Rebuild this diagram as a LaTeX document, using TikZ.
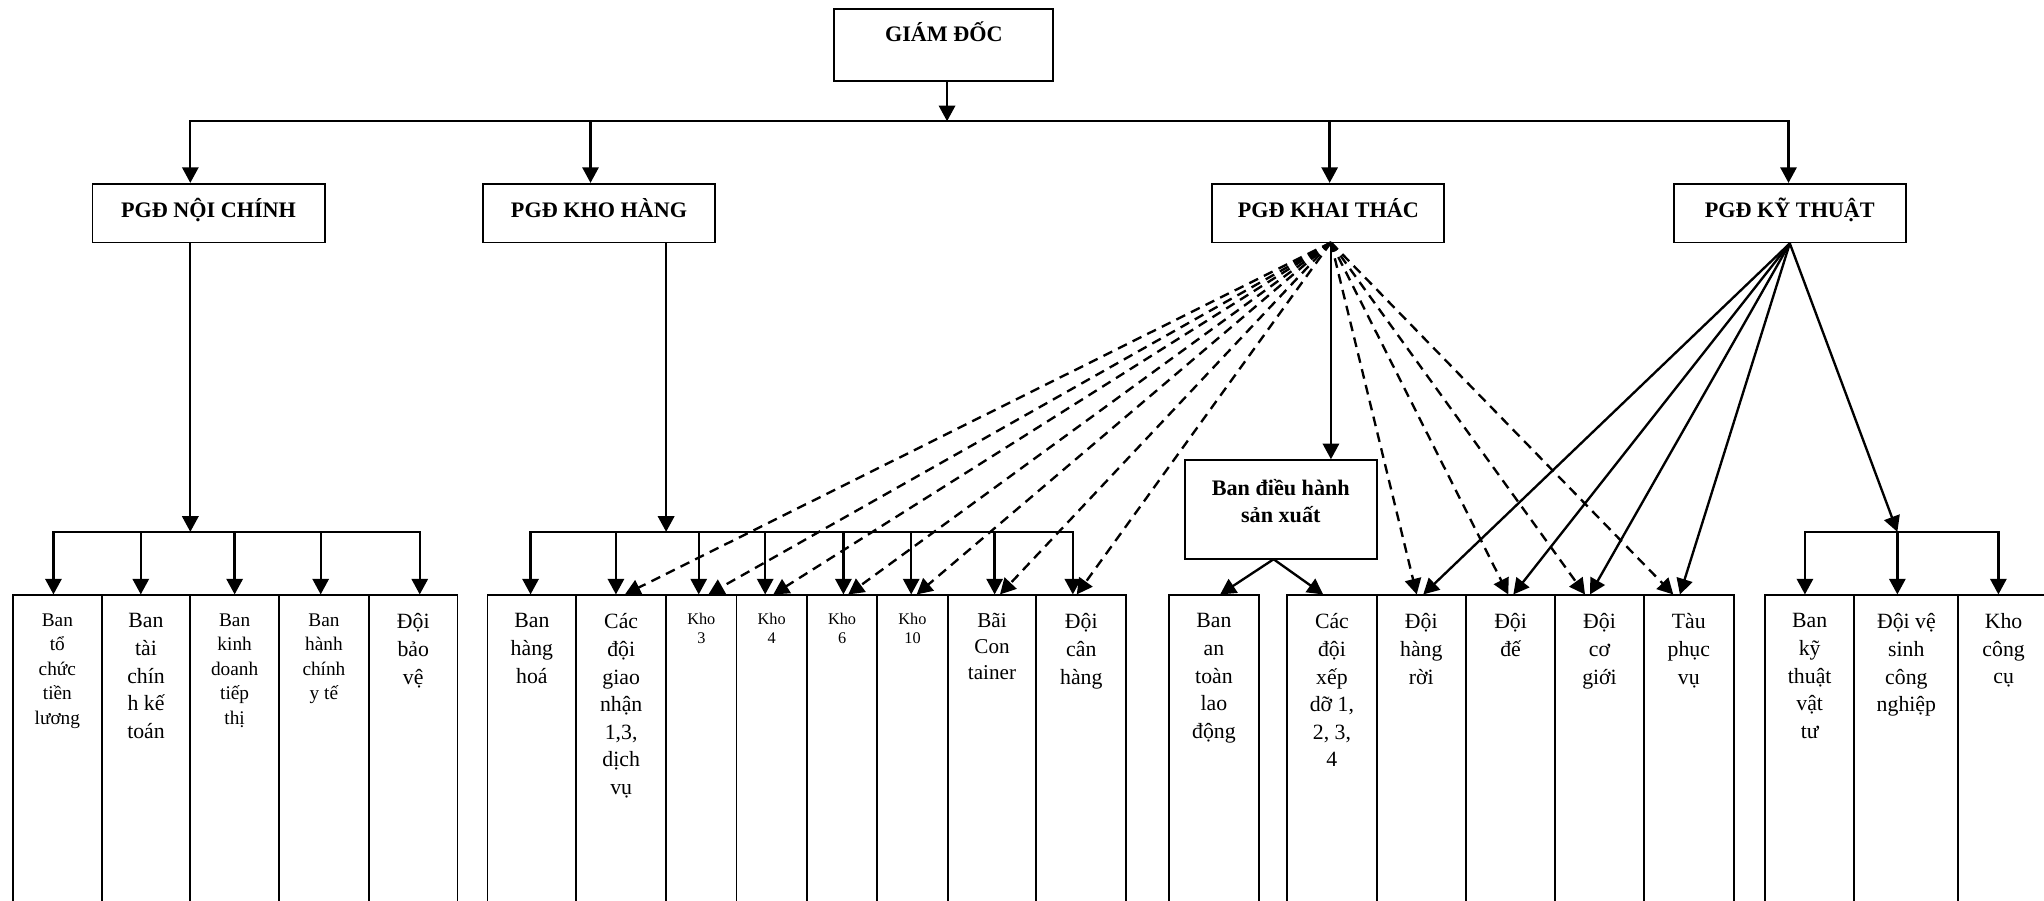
\documentclass[tikz,border=0pt]{standalone}
\usepackage{fontspec}
\setmainfont{Liberation Serif}
\usetikzlibrary{arrows.meta}
\begin{document}
\begin{tikzpicture}[x=1pt,y=-1pt,
  conn/.style={line width=1.8pt,-{Triangle[length=12pt,width=12.5pt]}},
  dconn/.style={conn,dash pattern=on 7.5pt off 5pt},
  busline/.style={line width=1.8pt,line cap=rect},
  hdr/.style={draw,line width=1.4pt,inner sep=0pt,font=\bfseries\fontsize{17}{21}\selectfont},
  pgd/.style={hdr,minimum width=178pt,minimum height=45pt,text height=11.3pt,text depth=5pt},
  col/.style={draw,line width=1.4pt,anchor=north,minimum height=260pt,inner sep=0pt},
  lbl/.style={anchor=north,align=center,inner sep=0pt,execute at begin node=\strut},
  big/.style={lbl,font=\fontsize{16.7}{21.2}\selectfont},
  sml/.style={lbl,font=\fontsize{14.8}{18.8}\selectfont},
  tny/.style={lbl,font=\fontsize{12.5}{14.5}\selectfont},
]
\useasboundingbox (0,0) rectangle (1568,691);
\clip (0,0) rectangle (1568,691);

% ---------- director and deputies ----------
\node[hdr,minimum width=168pt,minimum height=55pt,text height=12pt,text depth=17.8pt] (gd) at (724,34.5) {GIÁM ĐỐC};
\coordinate (top) at (726.5,93);
\draw[conn] (gd.south -| top) -- (top);

\coordinate (t1) at (146,93);
\coordinate (t2) at (453,93);
\coordinate (t3) at (1020,93);
\coordinate (t4) at (1372,93);
\draw[busline] (t1) -- (t4);

\node[pgd] (pn) at (160,163.5)   {PGĐ NỘI CHÍNH};
\node[pgd] (pk) at (459.5,163.5) {PGĐ KHO HÀNG};
\node[pgd] (pt) at (1019,163.5)  {PGĐ KHAI THÁC};
\node[pgd] (px) at (1373,163.5)  {PGĐ KỸ THUẬT};

\draw[conn] (t1) -- (t1 |- pn.north);
\draw[conn] (t2) -- (t2 |- pk.north);
\draw[conn] (t3) -- (t3 |- pt.north);
\draw[conn] (t4) -- (t4 |- px.north);

% ---------- group 1: PGĐ NỘI CHÍNH ----------
\node[col,minimum width=68pt] (c11) at (44,456) {};
\node[col,minimum width=68pt] (c12) at (112,456) {};
\node[col,minimum width=68pt] (c13) at (180,456) {};
\node[col,minimum width=69pt] (c14) at (248.5,456) {};
\node[col,minimum width=68pt] (c15) at (317,456) {};

\node[sml] (l11) at (44,470.5)    {Ban\\tổ\\chức\\tiền\\lương};
\node[big] (l12) at (112,470.5)   {Ban\\tài\\chín\\h kế\\toán};
\node[sml] (l13) at (180,470.5)   {Ban\\kinh\\doanh\\tiếp\\thị};
\node[sml] (l14) at (248.5,470.5) {Ban\\hành\\chính\\y tế};
\node[big] (l15) at (317,470.5)   {Đội\\bảo\\vệ};

\coordinate (n1) at (146,408);
\draw[conn] (pn.south -| n1) -- (n1);
\coordinate (d11) at (41,408);
\coordinate (d12) at (108,408);
\coordinate (d13) at (180,408);
\coordinate (d14) at (246,408);
\coordinate (d15) at (322,408);
\draw[busline] (d11) -- (d15);
\foreach \i in {1,...,5}{\draw[conn] (d1\i) -- (d1\i |- c1\i.north);}

% ---------- group 2: PGĐ KHO HÀNG ----------
\node[col,minimum width=68pt] (c21) at (408,456) {};
\node[col,minimum width=69pt] (c22) at (476.5,456) {};
\node[col,minimum width=54pt] (c23) at (538,456) {};
\node[col,minimum width=54pt] (c24) at (592,456) {};
\node[col,minimum width=54pt] (c25) at (646,456) {};
\node[col,minimum width=54pt] (c26) at (700,456) {};
\node[col,minimum width=68pt] (c27) at (761,456) {};
\node[col,minimum width=69pt] (c28) at (829.5,456) {};

\node[big] (l21) at (408,470.5)   {Ban\\hàng\\hoá};
\node[big] (l22) at (476.5,470.5) {Các\\đội\\giao\\nhận\\1,3,\\dịch\\vụ};
\node[tny] (l23) at (538,470)     {Kho\\3};
\node[tny] (l24) at (592,470)     {Kho\\4};
\node[tny] (l25) at (646,470)     {Kho\\6};
\node[tny] (l26) at (700,470)     {Kho\\10};
\node[big,font=\fontsize{16.2}{20}\selectfont] (l27) at (761,470.5) {Bãi\\Con\\tainer};
\node[big] (l28) at (829.5,470.5) {Đội\\cân\\hàng};

\coordinate (n2) at (511,408);
\draw[conn] (pk.south -| n2) -- (n2);
\coordinate (d21) at (407,408);
\coordinate (d22) at (472.5,408);
\coordinate (d23) at (536,408);
\coordinate (d24) at (587,408);
\coordinate (d25) at (647,408);
\coordinate (d26) at (699,408);
\coordinate (d27) at (763,408);
\coordinate (d28) at (823,408);
\draw[busline] (d21) -- (d28);
\foreach \i in {1,...,8}{\draw[conn] (d2\i) -- (d2\i |- c2\i.north);}

% dashed links from PGĐ KHAI THÁC to the warehouse units
\coordinate (ko) at (1021,186);
\coordinate (h22) at (479.4,456);
\coordinate (h23) at (543.4,456);
\coordinate (h24) at (593.2,456);
\coordinate (h25) at (650.7,456);
\coordinate (h26) at (703.2,456);
\coordinate (h27) at (767.1,456);
\coordinate (h28) at (826,456);
\foreach \i in {2,...,8}{\draw[dconn] (ko) -- (h2\i);}

% ---------- group 3: PGĐ KHAI THÁC ----------
\node[draw,line width=1.4pt,minimum width=147pt,minimum height=76pt,inner sep=0pt] (bdh) at (982.5,391) {};
\node[lbl,font=\bfseries\fontsize{17}{21}\selectfont] (bdht) at (982.5,367.5) {Ban điều hành\\sản xuất};
\draw[conn] (ko) -- (ko |- bdh.north);

\node[col,minimum width=68.5pt] (c31) at (931.25,456) {};
\node[col,minimum width=68.5pt] (c32) at (1021.75,456) {};
\node[col,minimum width=68.6pt] (c33) at (1090.3,456) {};
\node[col,minimum width=68.4pt] (c34) at (1158.8,456) {};
\node[col,minimum width=68pt]   (c35) at (1227,456) {};
\node[col,minimum width=69pt]   (c36) at (1295.5,456) {};

\node[big] (l31) at (931.25,470.5)  {Ban\\an\\toàn\\lao\\động};
\node[big] (l32) at (1021.75,470.5) {Các\\đội\\xếp\\dỡ 1,\\2, 3,\\4};
\node[big] (l33) at (1090.3,470.5)  {Đội\\hàng\\rời};
\node[big] (l34) at (1158.8,470.5)  {Đội\\đế};
\node[big] (l35) at (1227,470.5)    {Đội\\cơ\\giới};
\node[big] (l36) at (1295.5,470.5)  {Tàu\\phục\\vụ};

\coordinate (a31) at (936,456);
\coordinate (a32) at (1015,456);
\coordinate (bo) at (977,429);
\draw[conn] (bo) -- (a31);
\draw[conn] (bo) -- (a32);

\coordinate (h33) at (1086.8,456);
\coordinate (h34) at (1157,456);
\coordinate (h35) at (1215.9,456);
\coordinate (h36) at (1283.6,456);
\foreach \i in {3,...,6}{\draw[dconn] (ko) -- (h3\i);}

% solid links from PGĐ KỸ THUẬT to the operating teams
\coordinate (s33) at (1091.8,456);
\coordinate (s34) at (1160.9,456);
\coordinate (s35) at (1219.7,456);
\coordinate (s36) at (1288.7,456);
\foreach \i in {3,...,6}{\draw[conn] (px.south) -- (s3\i);}

% ---------- group 4: PGĐ KỸ THUẬT ----------
\node[col,minimum width=68.5pt] (c41) at (1388.25,456) {};
\node[col,minimum width=79.8pt] (c42) at (1462.4,456) {};
\node[col,minimum width=69.4pt] (c43) at (1537,456) {};

\node[big] (l41) at (1388.25,470.5) {Ban\\kỹ\\thuật\\vật\\tư};
\node[big] (l42) at (1462.4,470.5)  {Đội vệ\\sinh\\công\\nghiệp};
\node[big] (l43) at (1537,470.5)    {Kho\\công\\cụ};

\coordinate (d41) at (1384.6,408);
\coordinate (d42) at (1455.5,408);
\coordinate (d43) at (1533,408);
\draw[conn] (px.south) -- (d42);
\draw[busline] (d41) -- (d43);
\foreach \i in {1,2,3}{\draw[conn] (d4\i) -- (d4\i |- c4\i.north);}
\end{tikzpicture}
\end{document}
